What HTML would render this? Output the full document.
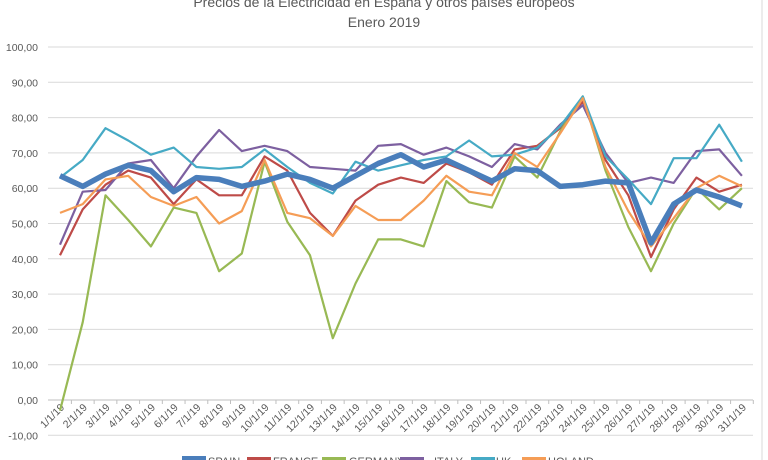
<!DOCTYPE html>
<html><head><meta charset="utf-8"><style>
html,body{margin:0;padding:0;background:#fff;width:768px;height:460px;overflow:hidden}
</style></head><body>
<svg id="s" width="768" height="460" xmlns="http://www.w3.org/2000/svg" font-family="Liberation Sans, sans-serif">
<rect x="0" y="0" width="768" height="460" fill="#fff"/>
<line x1="762" y1="0" x2="762" y2="460" stroke="#d9d9d9"/>
<text x="384" y="7" text-anchor="middle" font-size="14" fill="#595959">Precios de la Electricidad en España y otros países europeos</text>
<text x="384" y="27" text-anchor="middle" font-size="14" fill="#595959">Enero 2019</text>
<g id="g"></g>
</svg>
<script>
var g=document.getElementById('g'),h='';
function Y(v){return 400-v*3.53;}
function X(i){return 60+i*22.73;}
for(var v=-10;v<=100;v+=10){var y=Y(v);h+='<line x1="48" x2="753" y1="'+y+'" y2="'+y+'" stroke="'+(v==0?'#bfbfbf':'#d9d9d9')+'" stroke-width="1"/>';
h+='<text x="38" y="'+(y+4)+'" text-anchor="end" font-size="10.5" fill="#595959">'+v.toFixed(2).replace('.',',')+'</text>';}
for(var i=0;i<31;i++){var x=X(i);h+='<line x1="'+(x+11.4)+'" x2="'+(x+11.4)+'" y1="400" y2="404" stroke="#bfbfbf"/>';
h+='<text transform="translate('+(x+5)+',408) rotate(-45)" text-anchor="end" font-size="10.5" fill="#595959">'+(i+1)+'/1/19</text>';}
var D={
S:[63.5,60.5,64,66.5,65,59,63,62.5,60.5,62,64,62.5,60,63.5,67,69.5,66,68,65,62,65.5,65,60.5,61,62,61.5,44.5,55.5,59.5,57.5,55],
F:[41,54,61,65,63,55.5,62.5,58,58,69,65,53,46.5,56.5,61,63,61.5,67,64.5,61,71,72,77,84.5,68,58,40.5,54,63,59,61],
G:[-3,22,58,51,43.5,54.5,53,36.5,41.5,67.5,50.5,41,17.5,33,45.5,45.5,43.5,62,56,54.5,69,63,76,86,65,49,36.5,50,60,54,60],
I:[44,59,59.5,67,68,60,69,76.5,70.5,72,70.5,66,65.5,65,72,72.5,69.5,71.5,69,66,72.5,71,78,83.5,70,61.5,63,61.5,70.5,71,63.5],
U:[63,68,77,73.5,69.5,71.5,66,65.5,66,71,66,61.5,58.5,67.5,65,66.5,68,69,73.5,69,69.5,71.5,77.5,86,69,62.5,55.5,68.5,68.5,78,67.5],
H:[53,55.5,62.5,63.5,57.5,55,57.5,50,53.5,68,53,51.5,46.5,55,51,51,56.5,63.5,59,58,70,66,75.5,85.5,66,53.5,43.5,51.5,60,63.5,60.5]};
var C={S:'#4a7ebb',F:'#be4b48',G:'#98b954',I:'#7d60a0',U:'#46aac5',H:'#f59d56'};
function P(k,w){var p=D[k].map(function(v,i){return X(i).toFixed(1)+','+Y(v).toFixed(1)}).join(' ');
return '<polyline points="'+p+'" fill="none" stroke="'+C[k]+'" stroke-width="'+w+'" stroke-linejoin="round"/>';}
h+=P('F',2.2)+P('G',2.2)+P('I',2.2)+P('U',2.2)+P('H',2.2)+P('S',5.5);
var L=[['S','SPAIN',182,208],['F','FRANCE',247,273],['G','GERMANY',322,349],['I','ITALY',400,434],['U','UK',471,496],['H','HOLAND',522,548]];
L.forEach(function(l){h+='<rect x="'+l[2]+'" y="'+(l[0]=='S'?456:457)+'" width="24" height="'+(l[0]=='S'?5:3)+'" fill="'+C[l[0]]+'"/>';
h+='<text x="'+l[3]+'" y="465" font-size="11" fill="#595959">'+l[1]+'</text>';});
g.innerHTML=h;
</script>
</body></html>
